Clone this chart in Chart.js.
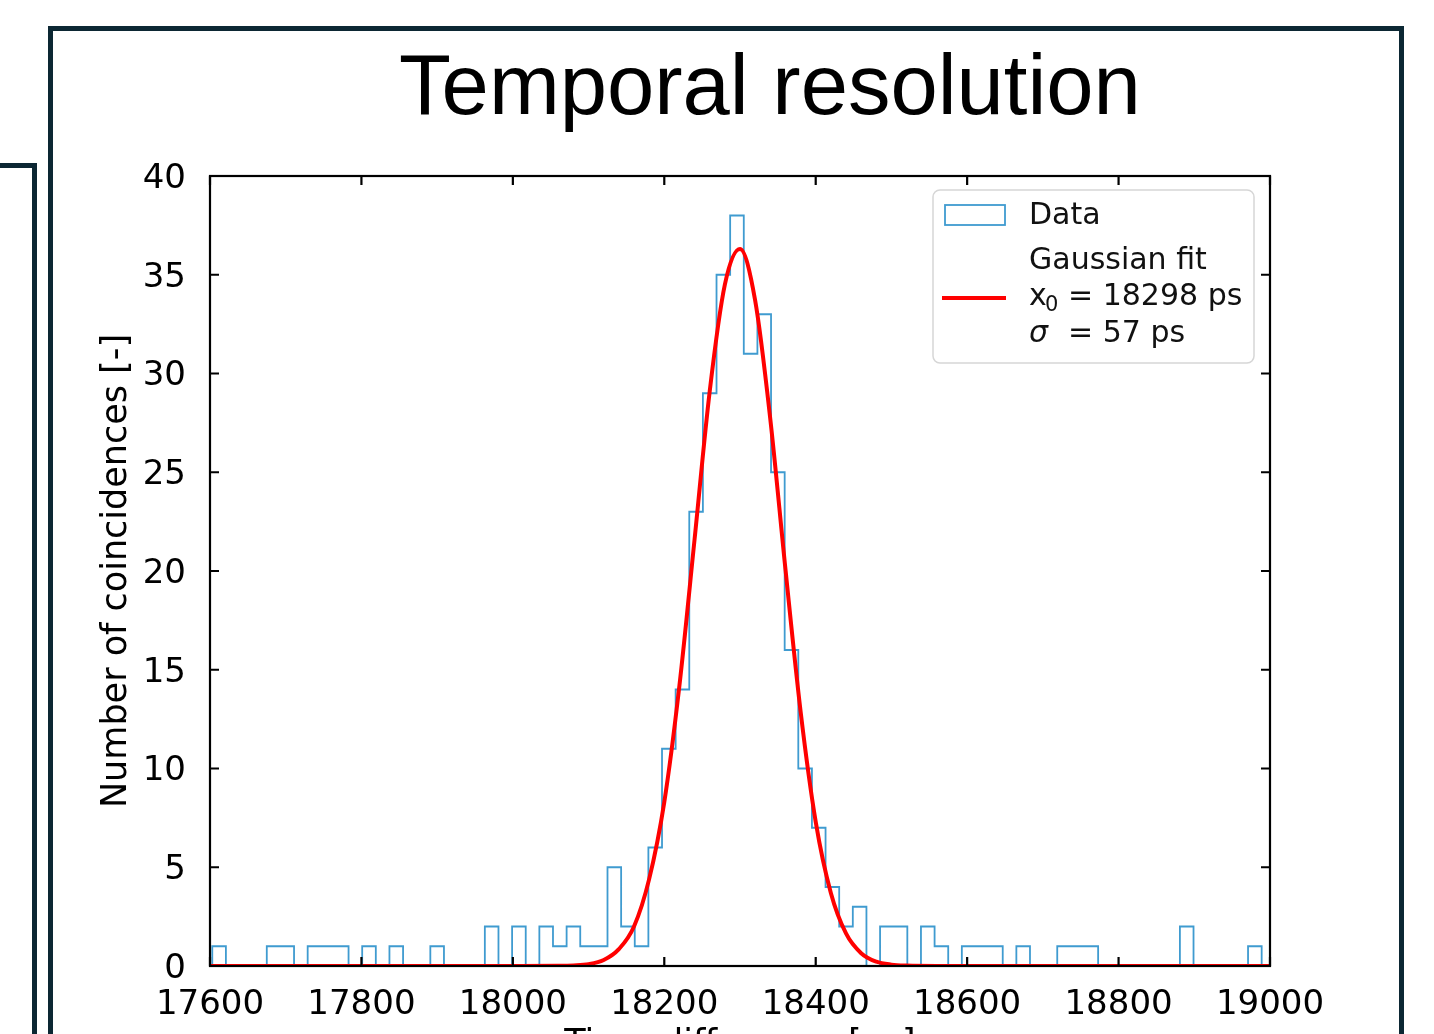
<!DOCTYPE html>
<html>
<head>
<meta charset="utf-8">
<script src="https://cdn.jsdelivr.net/npm/chart.js@4.4.1/dist/chart.umd.min.js"></script>
<style>
  html, body { margin:0; padding:0; width:1434px; height:1034px; overflow:hidden; background:#fff; }
  .frame { position:absolute; box-sizing:border-box; border:5px solid #0c2733; }
  #main { left:48px; top:26px; width:1356px; height:1200px; }
  #side { left:-20px; top:163px; width:57px; height:1200px; border-left:none; border-bottom:none; }
  #wrap { position:absolute; left:0; top:0; width:1434px; height:1034px; }
</style>
</head>
<body>
<div class="frame" id="main"></div>
<div class="frame" id="side"></div>
<div id="wrap"><canvas id="c" width="1434" height="1034"></canvas></div>
<script>
// ---- data ----
const chartTitle = 'Temporal resolution';
const xAxisTitle = 'Time difference [ps]';
const yAxisTitle = 'Number of coincidences [-]';

const binStart = 17603;   // left edge of first bin [ps]
const binWidth = 18;      // bin width [ps]
const binCounts = [
  1, 0, 0, 0, 1, 1, 0, 1, 1, 1,
  0, 1, 0, 1, 0, 0, 1, 0, 0, 0,
  2, 0, 2, 0, 2, 1, 2, 1, 1, 5,
  2, 1, 6, 11, 14, 23, 29, 35, 38, 31,
  33, 25, 16, 10, 7, 4, 2, 3, 0, 2,
  2, 0, 2, 1, 0, 1, 1, 1, 0, 1,
  0, 0, 1, 1, 1, 0, 0, 0, 0, 0,
  0, 2, 0, 0, 0, 0, 1
];

const fitX = [17600, 18000, 18060, 18080, 18100, 18120, 18140, 18160, 18180, 18200,
              18220, 18240, 18260, 18280, 18300, 18320, 18340, 18360, 18380, 18400,
              18420, 18440, 18460, 18480, 18500, 18520, 18560, 19000];
const fitY = [0, 0, 0.01, 0.03, 0.09, 0.3, 0.85, 2.0, 4.4, 8.3,
              14.2, 21.6, 29.1, 34.5, 36.3, 33.7, 27.7, 20.1, 12.9, 7.3,
              3.7, 1.65, 0.65, 0.22, 0.07, 0.02, 0, 0];

const xTicks = [17600, 17800, 18000, 18200, 18400, 18600, 18800, 19000];
const xTickLabels = ['17600', '17800', '18000', '18200', '18400', '18600', '18800', '19000'];
const yTicks = [0, 5, 10, 15, 20, 25, 30, 35, 40];
const yTickLabels = ['0', '5', '10', '15', '20', '25', '30', '35', '40'];

const legendData = 'Data';
const legendFitLines = ['Gaussian fit', 'x', '0', '= 18298 ps', 'σ', '= 57 ps'];

// ---- build datasets ----
const histPoints = [{x: binStart, y: 0}];
binCounts.forEach((c, i) => histPoints.push({x: binStart + i * binWidth, y: c}));
histPoints.push({x: binStart + binCounts.length * binWidth, y: 0});
const fitPoints = fitX.map((x, i) => ({x, y: fitY[i]}));

const HIST_COLOR = '#3f9bd0';
const FIT_COLOR = '#ff0000';
const FONT = "'DejaVu Sans', sans-serif";

const framePlugin = {
  id: 'framePlugin',
  afterDatasetsDraw(chart) {
    const ctx = chart.ctx;
    const a = chart.chartArea;
    const xs = chart.scales.x, ys = chart.scales.y;
    ctx.save();
    ctx.strokeStyle = '#000';
    ctx.lineWidth = 2.2;
    ctx.strokeRect(a.left, a.top, a.right - a.left, a.bottom - a.top);
    ctx.beginPath();
    const tl = 9;
    xTicks.forEach(v => {
      const p = xs.getPixelForValue(v);
      ctx.moveTo(p, a.bottom); ctx.lineTo(p, a.bottom - tl);
      ctx.moveTo(p, a.top); ctx.lineTo(p, a.top + tl);
    });
    yTicks.forEach(v => {
      const p = ys.getPixelForValue(v);
      ctx.moveTo(a.left, p); ctx.lineTo(a.left + tl, p);
      ctx.moveTo(a.right, p); ctx.lineTo(a.right - tl, p);
    });
    ctx.stroke();
    ctx.restore();
  },
  afterDraw(chart) {
    const ctx = chart.ctx;
    ctx.save();
    // title
    ctx.fillStyle = '#000';
    ctx.font = "85px 'Liberation Sans', Arial, sans-serif";
    ctx.textAlign = 'center';
    ctx.textBaseline = 'alphabetic';
    ctx.fillText(chartTitle, 770, 114);

    // legend box
    const bx = 933, by = 190, bw = 321, bh = 173, r = 7;
    ctx.beginPath();
    ctx.moveTo(bx + r, by);
    ctx.lineTo(bx + bw - r, by);
    ctx.arcTo(bx + bw, by, bx + bw, by + r, r);
    ctx.lineTo(bx + bw, by + bh - r);
    ctx.arcTo(bx + bw, by + bh, bx + bw - r, by + bh, r);
    ctx.lineTo(bx + r, by + bh);
    ctx.arcTo(bx, by + bh, bx, by + bh - r, r);
    ctx.lineTo(bx, by + r);
    ctx.arcTo(bx, by, bx + r, by, r);
    ctx.closePath();
    ctx.fillStyle = 'rgba(255,255,255,0.85)';
    ctx.fill();
    ctx.strokeStyle = '#d6d6d6';
    ctx.lineWidth = 1.5;
    ctx.stroke();

    // Data patch
    ctx.strokeStyle = HIST_COLOR;
    ctx.lineWidth = 1.8;
    ctx.strokeRect(945, 205, 60, 20);
    // Fit line
    ctx.strokeStyle = FIT_COLOR;
    ctx.lineWidth = 4;
    ctx.beginPath();
    ctx.moveTo(942, 298); ctx.lineTo(1006, 298);
    ctx.stroke();

    ctx.fillStyle = '#111';
    ctx.textAlign = 'left';
    ctx.font = '30px ' + FONT;
    ctx.fillText(legendData, 1029, 224);
    ctx.fillText(legendFitLines[0], 1029, 269);
    ctx.fillText(legendFitLines[1], 1029, 305);
    ctx.font = '21px ' + FONT;
    ctx.fillText(legendFitLines[2], 1045, 311);
    ctx.font = '30px ' + FONT;
    ctx.fillText(legendFitLines[3], 1068, 305);
    ctx.font = 'italic 30px ' + FONT;
    ctx.fillText(legendFitLines[4], 1029, 342);
    ctx.font = '30px ' + FONT;
    ctx.fillText(legendFitLines[5], 1068, 342);
    ctx.restore();
  }
};

new Chart(document.getElementById('c'), {
  type: 'scatter',
  data: {
    datasets: [
      {
        label: 'Gaussian fit',
        data: fitPoints,
        showLine: true,
        borderColor: FIT_COLOR,
        borderWidth: 4,
        pointRadius: 0,
        cubicInterpolationMode: 'monotone',
        fill: false,
        order: 0
      },
      {
        label: 'Data',
        data: histPoints,
        showLine: true,
        stepped: true,
        borderColor: HIST_COLOR,
        borderWidth: 1.8,
        pointRadius: 0,
        fill: false,
        order: 1
      }
    ]
  },
  options: {
    responsive: false,
    animation: false,
    devicePixelRatio: 1,
    layout: { padding: { left: 0, top: 176, right: 164, bottom: 0 } },
    plugins: {
      legend: { display: false },
      tooltip: { enabled: false },
      title: { display: false }
    },
    scales: {
      x: {
        type: 'linear',
        min: 17600, max: 19000,
        grid: { display: false, drawTicks: false },
        border: { display: false },
        afterBuildTicks: s => { s.ticks = xTicks.map(v => ({value: v})); },
        afterFit: s => { s.height = 68; },
        ticks: {
          padding: 19,
          color: '#000',
          font: { family: FONT, size: 34 },
          maxRotation: 0,
          autoSkip: false,
          callback: (v, i) => xTickLabels[xTicks.indexOf(v)]
        },
        title: {
          display: true,
          text: xAxisTitle,
          color: '#000',
          font: { family: FONT, size: 35 },
          padding: { top: 0, bottom: -32 }
        }
      },
      y: {
        type: 'linear',
        min: 0, max: 40,
        grid: { display: false, drawTicks: false },
        border: { display: false },
        afterBuildTicks: s => { s.ticks = yTicks.map(v => ({value: v})); },
        afterFit: s => { s.width = 210; },
        ticks: {
          padding: 24,
          labelOffset: 3,
          color: '#000',
          font: { family: FONT, size: 34 },
          autoSkip: false,
          callback: (v, i) => yTickLabels[yTicks.indexOf(v)]
        },
        title: {
          display: true,
          text: yAxisTitle,
          color: '#000',
          font: { family: FONT, size: 35 },
          padding: { top: 96, bottom: 0 }
        }
      }
    }
  },
  plugins: [framePlugin]
});
</script>
</body>
</html>
